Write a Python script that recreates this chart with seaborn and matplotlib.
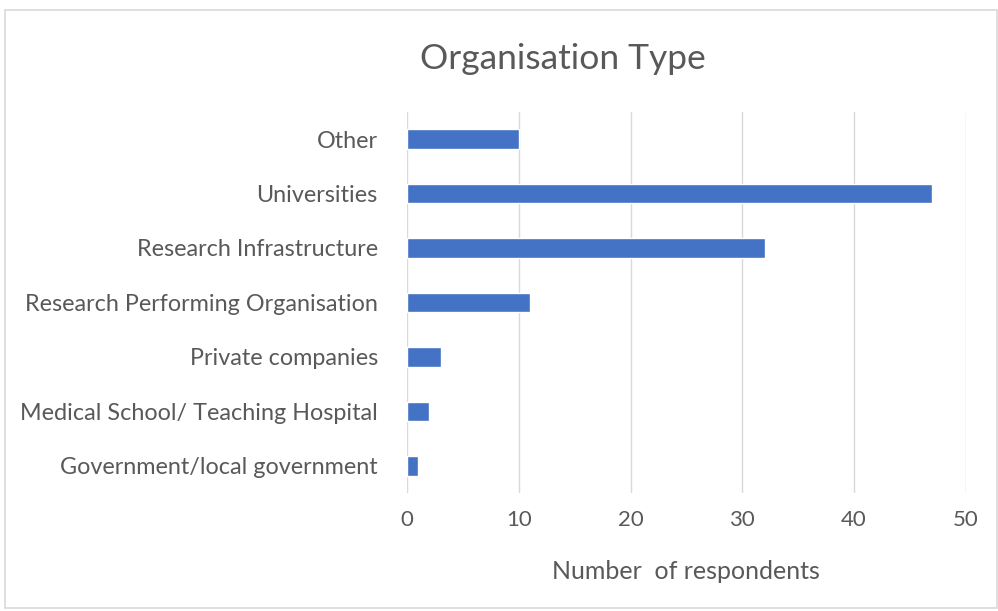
import matplotlib
matplotlib.use("Agg")
import matplotlib.pyplot as plt
import seaborn as sns
import pandas as pd
from matplotlib.patches import Rectangle

categories = ["Other", "Universities", "Research Infrastructure",
              "Research Performing Organisation", "Private companies",
              "Medical School/ Teaching Hospital", "Government/local government"]
values = [10, 47, 32, 11, 3, 2, 1]
x_ticks = [0, 10, 20, 30, 40, 50]

sns.set_theme(style="white")
plt.rcParams['font.family'] = ['Lato', 'DejaVu Sans']
text_color = "#595959"

df = pd.DataFrame({"category": categories, "value": values})

fig = plt.figure(figsize=(9.98, 6.11), dpi=100)
ax = fig.add_axes([0.4078, 0.193, 0.560, 0.624])
sns.barplot(data=df, y="category", x="value", order=categories,
            color="#4472C4", saturation=1, width=0.36, ax=ax)

ax.set_xlim(0, 50)
ax.set_xticks(x_ticks)
ax.set_xticklabels([str(t) for t in x_ticks])
ax.set_ylim(len(categories) - 0.5, -0.5)
ax.xaxis.grid(True, color="#d9d9d9", linewidth=1)
ax.set_axisbelow(True)
for s in ax.spines.values():
    s.set_visible(False)
ax.tick_params(axis="y", length=0, labelsize=16.8, colors=text_color, pad=21)
ax.tick_params(axis="x", length=0, labelsize=16, colors=text_color, pad=12)
ax.set_ylabel("")
ax.set_xlabel("Number  of respondents", fontsize=18, color=text_color, labelpad=22)

fig.text(0.564, 0.903, "Organisation Type", ha="center", va="center",
         fontsize=25.5, color=text_color)

fig.patches.append(Rectangle((0.005, 0.005), 0.994, 0.978, transform=fig.transFigure,
                             fill=False, edgecolor="#d9d9d9", linewidth=1.2))

fig.savefig("out.png", dpi=100)
